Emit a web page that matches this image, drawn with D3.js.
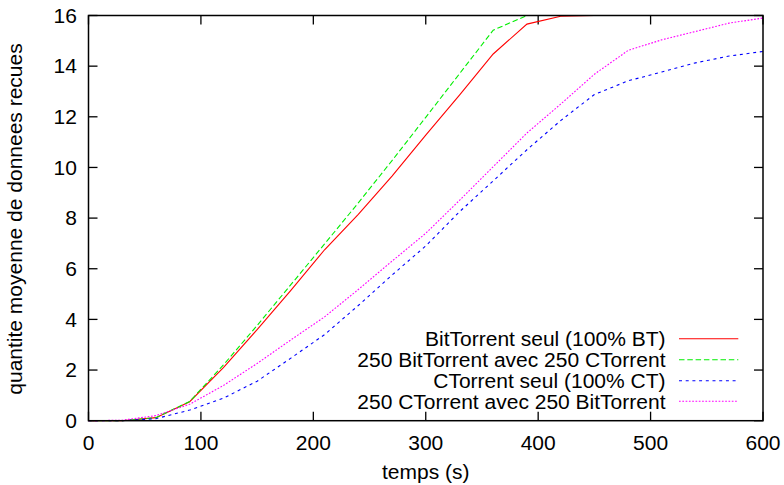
<!DOCTYPE html>
<html><head><meta charset="utf-8">
<script src="https://cdn.jsdelivr.net/npm/d3@7"></script>
<style>
html,body{margin:0;padding:0;background:#fff;}
svg{display:block;font-family:"Liberation Sans",Arial,sans-serif;}
</style></head>
<body><svg id="c" width="784" height="485"></svg>
<script>
const times = [0,30,60,90,120,150,180,210,240,270,300,330,360,390,420,450,480,510,540,570,600];
const btSeul = [0,0,0.12,0.75,2.1,3.6,5.15,6.75,8.15,9.66,11.28,12.86,14.48,15.66,15.97,16,16,16,16,16,16];
const btAvecCt = [0,0,0.12,0.76,2.2,3.76,5.37,6.98,8.6,10.27,11.98,13.7,15.42,16,16,16,16,16,16,16,16];
const ctSeul = [0,0,0.08,0.42,0.89,1.56,2.47,3.4,4.55,5.75,6.9,8.25,9.47,10.7,11.85,12.88,13.42,13.77,14.13,14.4,14.58];
const ctAvecBt = [0,0.02,0.2,0.65,1.39,2.26,3.19,4.1,5.18,6.3,7.4,8.7,10.03,11.36,12.5,13.68,14.62,15.04,15.37,15.7,15.9];
const seriesNames = ["BitTorrent seul (100% BT)","250 BitTorrent avec 250 CTorrent","CTorrent seul (100% CT)","250 CTorrent avec 250 BitTorrent"];
const xTicks = [0,100,200,300,400,500,600];
const yTicks = [0,2,4,6,8,10,12,14,16];
const xLabel = "temps (s)";
const yLabel = "quantite moyenne de donnees recues";

const series = [
  {name: seriesNames[0], values: btSeul, color: "#ff0000", dash: null},
  {name: seriesNames[1], values: btAvecCt, color: "#00ee00", dash: "5.5,2.8"},
  {name: seriesNames[2], values: ctSeul, color: "#0000ff", dash: "3,3.7"},
  {name: seriesNames[3], values: ctAvecBt, color: "#ff00ff", dash: "1.7,1.6"}
];

const L = 88.5, R = 763, T = 15.5, B = 420.7;
const svg = d3.select("#c");
const x = d3.scaleLinear().domain([0,600]).range([L,R]);
const y = d3.scaleLinear().domain([0,16]).range([B,T]);
const fs = 20;
const stretch = 1.05;
const tickLen = 9;

function widen(sel) {
  sel.each(function() {
    const len = this.getComputedTextLength();
    d3.select(this).attr("textLength", len * stretch).attr("lengthAdjust", "spacingAndGlyphs");
  });
  return sel;
}

// ticks inward (all four sides)
const gAx = svg.append("g").attr("stroke","#000").attr("stroke-width",1.3);
xTicks.forEach(t => {
  gAx.append("line").attr("x1",x(t)).attr("x2",x(t)).attr("y1",B).attr("y2",B-tickLen);
  gAx.append("line").attr("x1",x(t)).attr("x2",x(t)).attr("y1",T).attr("y2",T+tickLen);
});
yTicks.forEach(v => {
  gAx.append("line").attr("x1",L).attr("x2",L+tickLen).attr("y1",y(v)).attr("y2",y(v));
  gAx.append("line").attr("x1",R).attr("x2",R-tickLen).attr("y1",y(v)).attr("y2",y(v));
});

// tick labels
xTicks.forEach(t => {
  widen(svg.append("text").attr("x",x(t)).attr("y",449.5).attr("text-anchor","middle")
    .attr("font-size",fs).attr("fill","#000").text(t));
});
yTicks.forEach(v => {
  widen(svg.append("text").attr("x",77).attr("y",y(v)+7.2).attr("text-anchor","end")
    .attr("font-size",fs).attr("fill","#000").text(v));
});

// axis labels
widen(svg.append("text").attr("x",(L+R)/2).attr("y",478.5).attr("text-anchor","middle")
  .attr("font-size",fs).attr("fill","#000").text(xLabel));
widen(svg.append("text").attr("transform","translate(21.7,219) rotate(-90)").attr("text-anchor","middle")
  .attr("font-size",fs).attr("fill","#000").text(yLabel));

// lines
const line = d3.line().x(d => x(d[0])).y(d => y(d[1]));
series.forEach(s => {
  const pts = times.map((t,i) => [t, s.values[i]]);
  svg.append("path").attr("d", line(pts)).attr("fill","none")
    .attr("stroke", s.color).attr("stroke-width",1.1)
    .attr("stroke-dasharray", s.dash);
});

// legend
const legY = [338.7, 359.7, 380.7, 401.3];
series.forEach((s,i) => {
  widen(svg.append("text").attr("x",665.5).attr("y",legY[i]+7.3).attr("text-anchor","end")
    .attr("font-size",fs).attr("fill","#000").text(s.name));
  svg.append("line").attr("x1",679).attr("x2",738.3).attr("y1",legY[i]).attr("y2",legY[i])
    .attr("stroke", s.color).attr("stroke-width",1.1).attr("stroke-dasharray", s.dash);
});

// frame
svg.append("rect").attr("x",L).attr("y",T).attr("width",R-L).attr("height",B-T)
  .attr("fill","none").attr("stroke","#000").attr("stroke-width",1.5);
</script></body></html>
